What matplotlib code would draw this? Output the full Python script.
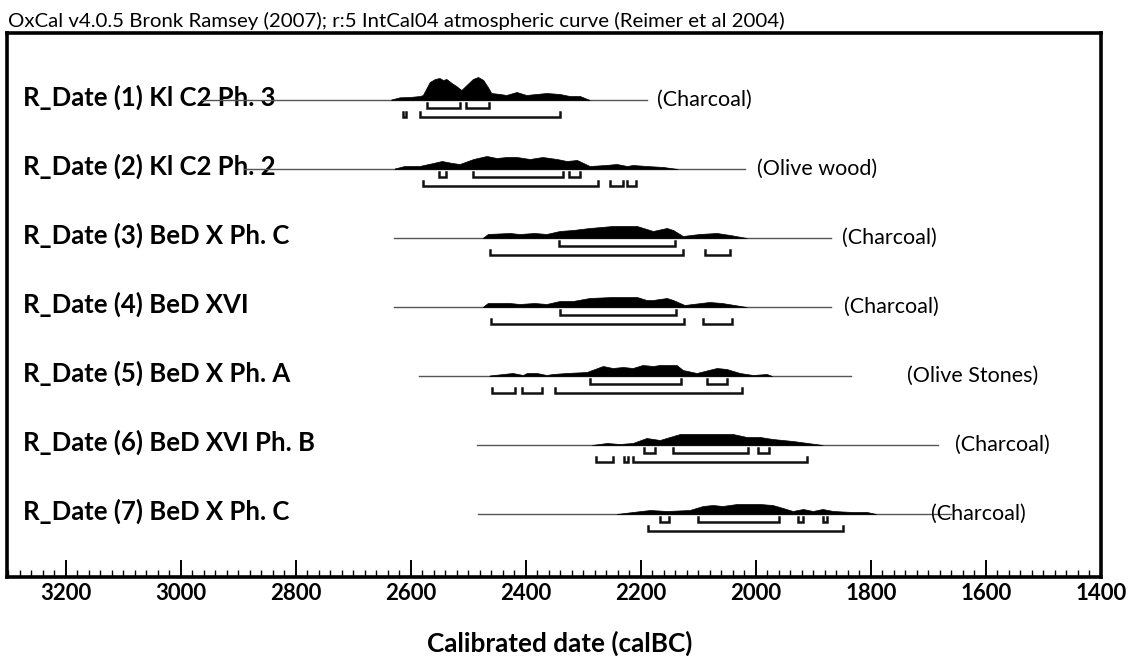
import matplotlib
matplotlib.use('Agg')
import matplotlib.pyplot as plt
import matplotlib.ticker as ticker
import matplotlib.transforms as mtransforms
import numpy as np

matplotlib.rcParams['font.family'] = ['Lato', 'DejaVu Sans']

title = "OxCal v4.0.5 Bronk Ramsey (2007); r:5 IntCal04 atmospheric curve (Reimer et al 2004)"
xlabel = "Calibrated date (calBC)"
labels = ["R_Date (1) Kl C2 Ph. 3", "R_Date (2) Kl C2 Ph. 2", "R_Date (3) BeD X Ph. C",
          "R_Date (4) BeD XVI", "R_Date (5) BeD X Ph. A", "R_Date (6) BeD XVI Ph. B",
          "R_Date (7) BeD X Ph. C"]
materials = ["(Charcoal)", "(Olive wood)", "(Charcoal)", "(Charcoal)", "(Olive Stones)",
             "(Charcoal)", "(Charcoal)"]
material_x = [2172, 1998, 1850, 1847, 1737, 1654, 1696]

# range of the thin line under each distribution (calBC)
line_range = [(2963, 2190), (2890, 2019), (2630, 1870), (2630, 1870),
              (2586, 1835), (2485, 1684), (2483, 1660)]

# calibrated probability curves (year, relative probability)
dist_years = [
    [2634, 2619, 2602, 2584, 2579, 2567, 2558, 2550, 2544, 2538, 2529, 2521, 2512, 2503,
     2492, 2483, 2474, 2466, 2460, 2445, 2434, 2416, 2399, 2382, 2364, 2341, 2324, 2306, 2289],
    [2628, 2611, 2585, 2561, 2546, 2528, 2515, 2491, 2468, 2451, 2433, 2416, 2393, 2371,
     2346, 2329, 2311, 2289, 2261, 2242, 2224, 2214, 2190, 2161, 2136],
    [2475, 2466, 2428, 2411, 2385, 2364, 2341, 2318, 2289, 2249, 2207, 2190, 2179, 2155,
     2144, 2127, 2098, 2068, 2045, 2016],
    [2475, 2466, 2428, 2411, 2385, 2364, 2341, 2318, 2289, 2249, 2207, 2190, 2179, 2155,
     2144, 2124, 2081, 2059, 2016],
    [2463, 2423, 2405, 2398, 2381, 2364, 2353, 2329, 2294, 2266, 2249, 2231, 2214, 2197,
     2179, 2167, 2138, 2127, 2103, 2068, 2051, 2028, 2005, 1981, 1972],
    [2285, 2259, 2237, 2214, 2190, 2167, 2132, 2110, 2040, 2016, 1993, 1971, 1936, 1884],
    [2242, 2214, 2184, 2155, 2115, 2092, 2075, 2058, 2033, 1993, 1971, 1953, 1936, 1918,
     1901, 1884, 1866, 1832, 1807, 1791],
]
dist_prob = [
    [0.5, 2.7, 3, 4, 5, 18, 21, 22, 20, 21, 17, 14, 10, 15,
     21, 23, 20, 13, 7, 6, 5, 8, 5, 6, 7, 6, 4, 4, 0],
    [0.5, 3, 3, 6, 8, 6, 5, 10, 13, 11, 12, 12, 10, 12,
     10, 8, 9, 3, 4, 5, 3, 4, 3, 2, 0],
    [0, 4, 5, 4, 5, 4, 7, 8, 10, 12, 12, 9, 7, 10,
     8, 2, 4, 5, 3, 0],
    [0, 4, 4, 3, 4, 3, 6, 6, 9, 10, 10, 7, 7, 9,
     7, 2, 5, 4, 0],
    [0.5, 3, 1, 3, 3, 1, 2, 3, 4, 10, 8, 9, 8, 11,
     10, 11, 11, 6, 3, 8, 7, 3, 1, 2, 0],
    [0, 2, 1, 2, 7, 5, 11, 11, 11, 8, 8, 6, 4, 0],
    [0, 2, 4, 3, 4, 8, 9, 8, 10, 10, 9, 6, 3, 5,
     3, 5, 3, 2, 2, 0],
]

# 68.2% and 95.4% ranges (calBC)
r68 = [
    [(2572, 2515), (2504, 2464)],
    [(2551, 2539), (2491, 2336), (2325, 2306)],
    [(2343, 2141)],
    [(2341, 2139)],
    [(2289, 2131), (2085, 2051)],
    [(2195, 2176), (2144, 2014), (1997, 1977)],
    [(2167, 2151), (2101, 1960), (1927, 1918), (1884, 1877)],
]
r95 = [
    [(2613, 2608), (2584, 2341)],
    [(2579, 2275), (2254, 2231), (2224, 2209)],
    [(2463, 2127), (2089, 2045)],
    [(2461, 2125), (2092, 2042)],
    [(2458, 2419), (2407, 2372), (2350, 2025)],
    [(2278, 2249), (2230, 2223), (2214, 1911)],
    [(2188, 1849)],
]

W, H = 1139, 656
fig = plt.figure(figsize=(W / 100, H / 100), dpi=100)
ax = fig.add_axes([7 / W, 1 - 577 / H, (1101 - 7) / W, (577 - 33) / H])

px = 1 / 69.0  # one pixel in row units
trans = mtransforms.blended_transform_factory(ax.transAxes, ax.transData)
for i in range(len(labels)):
    base = i + 1
    ax.plot(line_range[i], [base, base], color='#555555', lw=1.0, zorder=2)
    yrs = np.array(dist_years[i])
    p = np.array(dist_prob[i])
    ax.fill_between(yrs, base, base - p * px, color='black', lw=0.5, zorder=3)
    for a, b in r68[i]:
        y0, y1 = base + 3 * px, base + 8 * px
        ax.plot([a, a, b, b], [y0, y1, y1, y0], color='#111111', lw=1.8,
                solid_joinstyle='miter', zorder=3)
    for a, b in r95[i]:
        y0, y1 = base + 12 * px, base + 17 * px
        ax.plot([a, a, b, b], [y0, y1, y1, y0], color='#111111', lw=1.8,
                solid_joinstyle='miter', zorder=3)
    ax.text(0.0146, base - 3 * px, labels[i], transform=trans, fontsize=18.5,
            fontweight='bold', va='center', ha='left', zorder=1)
    ax.text(material_x[i], base, materials[i], fontsize=15.5, va='center', ha='left')

ax.set_xlim(3302, 1400)
ax.set_ylim(7 + 63 * px, 1 - 67 * px)
ax.yaxis.set_visible(False)
ax.xaxis.set_major_locator(ticker.MultipleLocator(200))
ax.xaxis.set_minor_locator(ticker.MultipleLocator(20))
ax.tick_params(axis='x', which='major', direction='in', length=12, width=1.4, pad=4,
               labelsize=16)
ax.tick_params(axis='x', which='minor', direction='in', length=5, width=1.0)
for lab in ax.get_xticklabels():
    lab.set_fontweight('bold')
for s in ax.spines.values():
    s.set_linewidth(2.6)

fig.text(560 / W, 1 - 643 / H, xlabel, fontsize=18.8, fontweight='bold',
         va='center', ha='center')
fig.text(8 / W, 1 - 21 / H, title, fontsize=14.7, va='center', ha='left')

fig.savefig('out.png', dpi=100)
